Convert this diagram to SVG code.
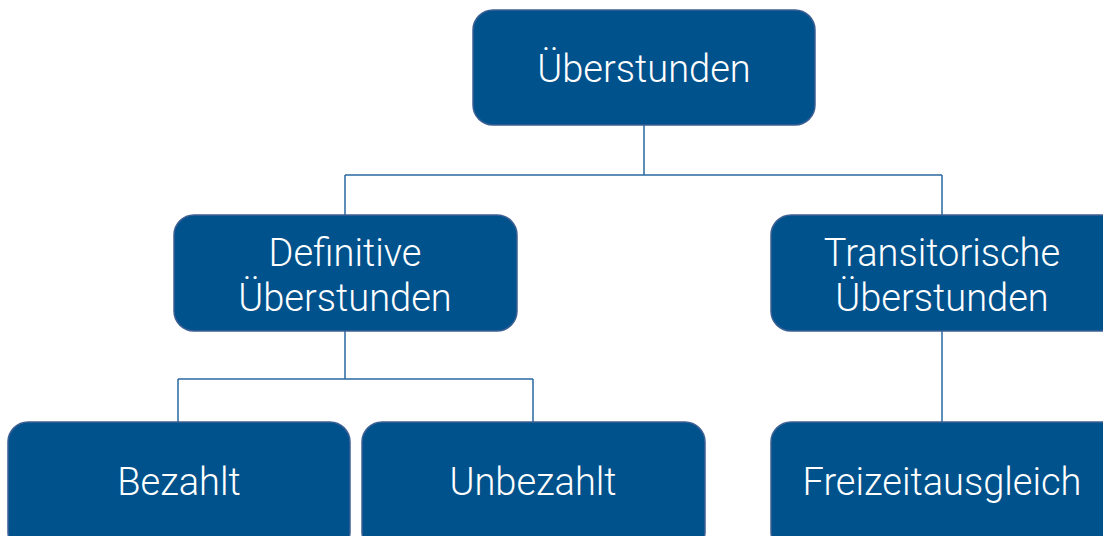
<svg xmlns="http://www.w3.org/2000/svg" width="1103" height="536" viewBox="0 0 1103 536">
<style>
.box{fill:#00528c;stroke:#3c5f94;stroke-width:1.5}
.lbl{fill:#ffffff;font-family:Roboto,"Liberation Sans",sans-serif;font-weight:300;font-size:38px;text-anchor:middle}
.con{fill:none;stroke:#2a6aa0;stroke-width:1.5}
</style>
<rect width="1103" height="536" fill="#ffffff"/>
<g id="connectors">
<path class="con" d="M644 125V175M345 175H942M345 175V215M942 175V215"/>
<path class="con" d="M345 331V379M178 379H533M178 379V422M533 379V422"/>
<path class="con" d="M942 331V422"/>
</g>
<g id="n-ueberstunden">
<rect class="box" x="473" y="10" width="342" height="115" rx="20"/>
<text class="lbl" x="644" y="82">Überstunden</text>
</g>
<g id="n-definitive">
<rect class="box" x="174" y="215" width="343" height="116" rx="20"/>
<text class="lbl" x="345" y="266">Definitive</text>
<text class="lbl" x="345" y="311">Überstunden</text>
</g>
<g id="n-transitorische">
<rect class="box" x="771" y="215" width="350" height="116" rx="20"/>
<text class="lbl" x="942" y="266">Transitorische</text>
<text class="lbl" x="942" y="311">Überstunden</text>
</g>
<g id="n-bezahlt">
<rect class="box" x="8" y="422" width="342" height="130" rx="20"/>
<text class="lbl" x="179" y="495">Bezahlt</text>
</g>
<g id="n-unbezahlt">
<rect class="box" x="362" y="422" width="343" height="130" rx="20"/>
<text class="lbl" x="533" y="495">Unbezahlt</text>
</g>
<g id="n-freizeit">
<rect class="box" x="771" y="422" width="350" height="130" rx="20"/>
<text class="lbl" x="942" y="495">Freizeitausgleich</text>
</g>
</svg>
